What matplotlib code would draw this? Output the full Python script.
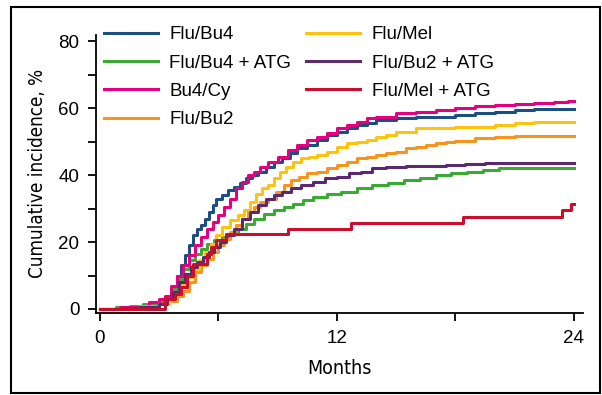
import matplotlib
matplotlib.use("Agg")
from matplotlib import pyplot as plt
from matplotlib.patches import Rectangle

# series: (months, cumulative incidence %)
flu_bu4_t = [0, 1, 2, 2.8, 3.3, 3.6, 3.9, 4.1, 4.3, 4.5, 4.7, 4.9, 5.1, 5.3, 5.5, 5.7, 5.9, 6.2, 6.5, 6.8, 7.1, 7.4, 7.7, 8.0, 8.4, 8.8, 9.2, 9.6, 10.0, 10.5, 11.0, 11.5, 12.0, 12.5, 13.0, 13.5, 14.0, 15.0, 16.0, 17.0, 18.0, 19.0, 20.0, 21.0, 22.0, 23.0, 24]
flu_bu4_v = [0, 0.5, 1, 1.5, 3, 6, 10, 13, 16, 19, 22, 24, 25, 27, 29, 31, 33, 34, 35.5, 36.5, 37.5, 39, 40, 41, 42.5, 44, 45, 46.5, 48, 49, 50.5, 52, 53, 54, 55, 55.5, 56.5, 57, 57.5, 57.5, 58, 58.5, 59, 59.5, 59.7, 59.7, 59.7]

flu_bu4_atg_t = [0, 0.8, 1.5, 2.2, 3.0, 3.3, 3.6, 3.9, 4.2, 4.5, 4.8, 5.1, 5.4, 5.8, 6.2, 6.6, 7.0, 7.4, 7.8, 8.3, 8.8, 9.3, 9.8, 10.3, 10.8, 11.5, 12.2, 13.0, 13.8, 14.6, 15.4, 16.2, 17.0, 17.8, 18.6, 19.4, 20.2, 21, 22, 24]
flu_bu4_atg_v = [0, 0.5, 1, 1.5, 2, 3.5, 6, 9, 12, 14.5, 16.5, 18, 19.5, 20.5, 21.5, 22.5, 24, 25.5, 27, 28.5, 29.5, 30.5, 31.5, 32.5, 33.5, 34.5, 35, 36, 37, 37.5, 38.5, 39, 40, 40.5, 41, 41.5, 42, 42.2, 42.2, 42.2]

bu4_cy_t = [0, 1, 2, 2.5, 3.0, 3.3, 3.6, 3.9, 4.2, 4.5, 4.8, 5.1, 5.4, 5.7, 6.0, 6.3, 6.6, 6.9, 7.2, 7.5, 7.8, 8.1, 8.5, 9.0, 9.5, 10.0, 10.5, 11.0, 11.5, 12.0, 12.5, 13.0, 13.5, 14.0, 15.0, 16.0, 17.0, 18.0, 19.0, 20.0, 21.0, 22.0, 23.0, 23.7, 24]
bu4_cy_v = [0, 0.5, 1, 2, 3, 4, 7, 10, 13, 16, 19, 21.5, 24, 26, 28, 30.5, 33, 36, 38, 40, 41, 42.5, 44, 45.5, 47.5, 49, 50.5, 51.5, 52.5, 54, 55, 56, 57, 57.5, 58.5, 59, 59.5, 60, 60.5, 61, 61.2, 61.4, 61.7, 62.2, 62.2]

flu_bu2_t = [0, 1, 2, 3, 3.5, 3.9, 4.2, 4.5, 4.8, 5.1, 5.4, 5.7, 6.0, 6.3, 6.6, 6.9, 7.2, 7.5, 7.8, 8.1, 8.5, 8.9, 9.3, 9.7, 10.1, 10.5, 11.0, 11.5, 12.0, 12.5, 13.0, 13.5, 14.0, 14.5, 15.0, 15.5, 16.0, 16.5, 17.0, 17.5, 18.0, 19.0, 20.0, 21.0, 22.0, 23.0, 24]
flu_bu2_v = [0, 0.3, 0.8, 1.5, 2.5, 4, 5.5, 8, 11, 13, 15, 17, 19, 21, 23, 25, 27, 29, 30.5, 32, 33, 35, 37, 38.5, 39.5, 40.5, 41, 42, 43, 44, 45, 45.5, 46, 46.5, 47, 48, 48.5, 49, 49.5, 50, 50.3, 51, 51.5, 51.6, 51.6, 51.6, 51.6]

flu_mel_t = [0, 1, 2, 3, 3.5, 3.8, 4.1, 4.4, 4.7, 5.0, 5.3, 5.6, 5.9, 6.2, 6.6, 7.0, 7.3, 7.6, 7.9, 8.2, 8.5, 8.8, 9.1, 9.4, 9.8, 10.2, 10.6, 11.0, 11.5, 12.0, 12.5, 13.0, 13.5, 14.0, 14.5, 15.0, 16.0, 17.0, 18.0, 19.0, 20.0, 21.0, 22.0, 23.0, 24]
flu_mel_v = [0, 0.3, 0.7, 1.5, 3, 5, 7.5, 9.5, 12, 14.5, 17, 19.5, 22, 24.5, 26.5, 28, 29.5, 32, 34.5, 36, 37, 39, 41, 42.5, 44, 45, 45.5, 46, 47, 48.5, 49.5, 50, 50.5, 51.5, 52, 53, 54, 54, 54.3, 54.5, 55, 55.5, 55.8, 56, 56]

flu_bu2_atg_t = [0, 1, 2, 3, 3.4, 3.7, 4.0, 4.3, 4.6, 4.9, 5.2, 5.5, 5.8, 6.1, 6.4, 6.8, 7.2, 7.6, 8.0, 8.4, 8.8, 9.2, 9.7, 10.2, 10.8, 11.4, 12.0, 12.6, 13.2, 13.8, 14.5, 15.5, 16.5, 17.5, 18.5, 19.5, 20.5, 22, 24]
flu_bu2_atg_v = [0, 0.3, 0.6, 1.5, 3, 5, 8, 10.5, 12.5, 14, 15.5, 17, 18.5, 20, 22, 24, 27, 29, 31, 33, 34, 35, 36, 37, 38, 39, 39.5, 40.5, 41, 42, 42.3, 42.6, 42.8, 43, 43.3, 43.6, 43.6, 43.6, 43.6]

flu_mel_atg_t = [0, 3.3, 3.8, 4.1, 4.4, 4.7, 5.0, 5.4, 5.6, 5.9, 6.4, 9.5, 12.7, 18.4, 23.4, 23.85, 24]
flu_mel_atg_v = [0, 3, 4.5, 6.5, 10, 13.5, 13.5, 16.5, 18.5, 20.5, 22.3, 24, 25.6, 27.4, 29.5, 31.5, 31.5]

series = [
    ("Flu/Bu4", flu_bu4_t, flu_bu4_v, "#1b4f80"),
    ("Flu/Bu4 + ATG", flu_bu4_atg_t, flu_bu4_atg_v, "#3aaa35"),
    ("Bu4/Cy", bu4_cy_t, bu4_cy_v, "#e6007e"),
    ("Flu/Bu2", flu_bu2_t, flu_bu2_v, "#f7941d"),
    ("Flu/Mel", flu_mel_t, flu_mel_v, "#ffc20e"),
    ("Flu/Bu2 + ATG", flu_bu2_atg_t, flu_bu2_atg_v, "#5b2a6e"),
    ("Flu/Mel + ATG", flu_mel_atg_t, flu_mel_atg_v, "#c8102e"),
]

plt.rcParams['font.family'] = ["Liberation Sans", "DejaVu Sans"]

fig = plt.figure(figsize=(6.02, 3.95), dpi=100)
ax = fig.add_axes([0.1595, 0.2076, 0.8085, 0.705])

for name, t, v, col in series:
    ax.plot(t, v, drawstyle="steps-post", color=col, lw=2.2, label=name)

ax.set_xlim(-0.2, 24.45)
ax.set_ylim(-1.2, 82)
ax.set_xticks([0, 6, 12, 18, 24])
ax.set_xticklabels(["0", "", "12", "", "24"])
ax.set_yticks(range(0, 81, 10))
ax.set_yticklabels(["0", "", "20", "", "40", "", "60", "", "80"])
ax.tick_params(labelsize=13.5, length=6, width=1.3, color="black", pad=6)
for s in ["top", "right"]:
    ax.spines[s].set_visible(False)
for s in ["left", "bottom"]:
    ax.spines[s].set_linewidth(1.3)

# condensed face for the axis titles
ax.set_xlabel("Months", fontsize=14, family="DejaVu Sans", fontstretch="condensed", labelpad=9)
ax.set_ylabel("Cumulative incidence, %", fontsize=13.5, family="DejaVu Sans", fontstretch="condensed", labelpad=8)

ax.legend(ncol=2, loc="upper left", bbox_to_anchor=(0.0, 1.057), frameon=False,
          fontsize=13.5, handlelength=2.9, handletextpad=0.6, columnspacing=0.8,
          labelspacing=0.6, borderaxespad=0)

fig.patches.append(Rectangle((0.019, 0.006), 0.977, 0.976, transform=fig.transFigure,
                             fill=False, edgecolor="black", lw=1.5))

fig.savefig("out.png", dpi=100)
